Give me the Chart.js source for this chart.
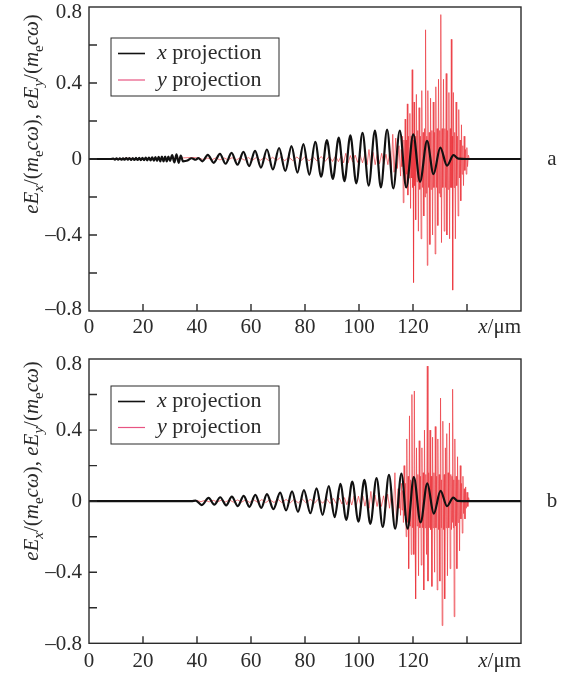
<!DOCTYPE html>
<html>
<head>
<meta charset="utf-8">
<script src="https://cdn.jsdelivr.net/npm/chart.js@4.4.1/dist/chart.umd.min.js"></script>
<style>
  html, body { margin: 0; padding: 0; background: #fff; }
  canvas { display: block; }
</style>
</head>
<body>
<canvas id="panelA" width="565" height="340"></canvas>
<canvas id="panelB" width="565" height="335"></canvas>
<script>
// --- axis ticks ---
const xTicks = [0, 20, 40, 60, 80, 100, 120, 140, 160];
const xTickLabels = ['0', '20', '40', '60', '80', '100', '120', '', ''];
const yTicks = [-0.8, -0.6, -0.4, -0.2, 0, 0.2, 0.4, 0.6, 0.8];
const yTickLabels = ['\u20130.8', '', '\u20130.4', '', '0', '', '0.4', '', '0.8'];

const xProjA = [
  [0, 0], [8, 0],
  [9, 0.002], [9.6, -0.003], [10.2, 0.003], [10.8, -0.004], [11.4, 0.003], [12, -0.004],
  [12.6, 0.004], [13.2, -0.004], [13.8, 0.005], [14.4, -0.004], [15, 0.005], [15.6, -0.005],
  [16.2, 0.005], [16.8, -0.005], [17.4, 0.006], [18, -0.005], [18.6, 0.006], [19.2, -0.006],
  [19.8, 0.006], [20.4, -0.006], [21, 0.007], [21.6, -0.007], [22.2, 0.008], [22.8, -0.008],
  [23.4, 0.009], [24, -0.009], [24.6, 0.01], [25.2, -0.01], [25.8, 0.011], [26.4, -0.012],
  [27, 0.012], [27.6, -0.012], [28.2, 0.013], [28.8, -0.012], [29.4, 0.012], [30, -0.01],
  [30.8, 0.02], [31.6, -0.018], [32.4, 0.024], [33.2, -0.02], [34, 0.018], [34.8, -0.012],
  [36.5, -0.008], [38, 0.004], [39.5, -0.004], [40.5, 0.005], [42, -0.012],
  [44, 0.022], [46.2, -0.02], [48.5, 0.027], [50.6, -0.025], [52.8, 0.032], [55, -0.03],
  [57.2, 0.037], [59.3, -0.037], [61.5, 0.043], [63.7, -0.045], [65.9, 0.05], [68.1, -0.055],
  [70.4, 0.058], [72.7, -0.063], [75, 0.068], [77.2, -0.072], [79.4, 0.078], [81.6, -0.083],
  [83.8, 0.09], [86, -0.093], [88.1, 0.1], [90.3, -0.105], [92.5, 0.112], [94.6, -0.117],
  [96.8, 0.125], [99, -0.128], [101.3, 0.138], [103.6, -0.14], [105.9, 0.15], [108.1, -0.15],
  [110.4, 0.155], [112.7, -0.155], [115.1, 0.15], [117.5, -0.15], [120.1, 0.13], [122.6, -0.12],
  [125.2, 0.095], [127.6, -0.08], [130.1, 0.06], [132.6, -0.035], [135, 0.02], [136.8, 0.002],
  [140, 0], [160, 0]
];

// --- panel a: y projection (red) ---
const yProjA = [
  [0, 0], [10, 0.001], [14, 0.004], [18, 0.002], [24, 0.003], [30, 0.002], [35, 0.006], [38.5, 0.008], [41, 0.004],
  [42.5, -0.004], [44, 0.005], [45.5, -0.004], [47, 0.006], [48.5, -0.005], [50, 0.006], [51.5, -0.005],
  [53, 0.007], [54.5, -0.006], [56, 0.007], [57.5, -0.006], [59, 0.008], [60.5, -0.007], [62, 0.008],
  [63.5, -0.007], [65, 0.009], [66.5, -0.008], [68, 0.009], [69.5, -0.008], [71, 0.01], [72.5, -0.009],
  [74, 0.01], [75.5, -0.009], [77, 0.011], [78.5, -0.01], [80, 0.012], [81.5, -0.01], [83, 0.012],
  [84.5, -0.011], [86, 0.013], [87.5, -0.012], [89, 0.014], [90.2, -0.013], [91.3, 0.015], [92.4, -0.014],
  [93.5, 0.02], [94.3, -0.02], [95.1, 0.03], [95.9, -0.022], [96.8, 0.018], [97.7, -0.016], [98.6, 0.02],
  [99.5, -0.018], [100.4, 0.022], [101.3, -0.02], [102.2, 0.025], [103, -0.03], [103.7, 0.05], [104.4, -0.045],
  [105.2, 0.035], [106, -0.03], [106.8, 0.03], [107.6, -0.025], [108.4, 0.03], [109.2, -0.028], [110, 0.025],
  [110.7, -0.03], [111.4, 0.04], [112, -0.05], [112.5, 0.13], [113, -0.07], [113.6, 0.11], [114.2, -0.05],
  [114.8, 0.07], [115.4, -0.09], [115.65, 0.05], [115.9, -0.04], [116.15, 0.12], [116.4, -0.23],
  [116.65, 0.1], [116.9, -0.06], [117.1, 0.21], [117.3, -0.15], [117.5, 0.1], [117.7, -0.08],
  [117.9, 0.29], [118.1, -0.19], [118.35, 0.12], [118.6, -0.1], [118.85, 0.24], [119.1, -0.26],
  [119.3, 0.12], [119.5, -0.1], [119.7, 0.47], [119.9, -0.15], [120.05, 0.1], [120.2, -0.65],
  [120.4, 0.3], [120.6, -0.14], [120.8, 0.12], [121, -0.32], [121.25, 0.34], [121.5, -0.12],
  [121.75, 0.15], [122, -0.38], [122.25, 0.27], [122.5, -0.16], [122.75, 0.12], [123, -0.42],
  [123.25, 0.36], [123.5, -0.15], [123.75, 0.14], [124, -0.3], [124.25, 0.16], [124.45, -0.2],
  [124.65, 0.68], [124.9, -0.18], [125.1, 0.12], [125.3, -0.56], [125.5, 0.36], [125.75, -0.15],
  [126, 0.14], [126.25, -0.45], [126.5, 0.32], [126.75, -0.16], [127, 0.15], [127.25, -0.4],
  [127.5, 0.3], [127.75, -0.15], [128, 0.14], [128.2, -0.5], [128.45, 0.38], [128.7, -0.15],
  [128.95, 0.16], [129.2, -0.35], [129.45, 0.42], [129.7, -0.18], [129.9, 0.15], [130.1, -0.2],
  [130.3, 0.76], [130.55, -0.44], [130.8, 0.16], [131.05, -0.15], [131.3, 0.42], [131.55, -0.38],
  [131.8, 0.16], [132.05, -0.15], [132.3, 0.45], [132.55, -0.4], [132.8, 0.15], [133.05, -0.16],
  [133.3, 0.35], [133.55, -0.42], [133.8, 0.16], [134, -0.15], [134.2, 0.63], [134.4, -0.15],
  [134.55, 0.12], [134.7, -0.69], [134.95, 0.35], [135.2, -0.15], [135.45, 0.14], [135.7, -0.42],
  [135.95, 0.3], [136.2, -0.14], [136.45, 0.12], [136.7, -0.3], [136.95, 0.26], [137.2, -0.1],
  [137.45, 0.1], [137.7, -0.22], [137.95, 0.18], [138.2, -0.08], [138.45, 0.07], [138.7, -0.14],
  [138.95, 0.12], [139.2, -0.06], [139.45, 0.05], [139.7, -0.08], [139.95, 0.06], [140.2, -0.04],
  [140.5, 0.02], [140.9, 0], [160, 0]
];

// --- panel b: x projection (black) ---
const xProjB = [
  [0, 0], [38, 0], [39.5, 0.003], [41.8, -0.022], [44.3, 0.018], [46.4, -0.02], [48.6, 0.022],
  [50.8, -0.024], [52.9, 0.026], [55.1, -0.028], [57.3, 0.03], [59.4, -0.032], [61.6, 0.035],
  [63.8, -0.038], [65.9, 0.04], [68.3, -0.045], [70.8, 0.048], [73, -0.052], [75.2, 0.055],
  [77.4, -0.06], [79.6, 0.062], [82, -0.068], [84.3, 0.072], [86.5, -0.078], [88.8, 0.085],
  [91, -0.09], [93.1, 0.097], [95.3, -0.105], [97.5, 0.11], [99.8, -0.115], [102, 0.12],
  [104.2, -0.128], [106.5, 0.13], [108.8, -0.145], [111.1, 0.148], [113.4, -0.155], [115.7, 0.155],
  [118, -0.155], [120.3, 0.135], [122.8, -0.12], [125.3, 0.1], [127.7, -0.07], [130.2, 0.058],
  [132.6, -0.028], [134.9, 0.02], [136.5, 0.002], [140, 0], [160, 0]
];

// --- panel b: y projection (red) ---
const yProjB = [
  [0, 0], [38, 0], [40, 0.004], [41.5, -0.003], [43, 0.005], [44.5, -0.004], [46, 0.005], [47.5, -0.005],
  [49, 0.006], [50.5, -0.005], [52, 0.007], [53.5, -0.006], [55, 0.007], [56.5, -0.006], [58, 0.008],
  [59.5, -0.007], [61, 0.008], [62.5, -0.007], [64, 0.009], [65.5, -0.008], [67, 0.009], [68.5, -0.008],
  [70, 0.01], [71.5, -0.009], [73, 0.01], [74.5, -0.01], [76, 0.011], [77.5, -0.01], [79, 0.012],
  [80.5, -0.011], [82, 0.012], [83.5, -0.012], [85, 0.013], [86.5, -0.012], [88, 0.014], [89.3, -0.013],
  [90.5, 0.016], [91.6, -0.015], [92.7, 0.018], [93.7, -0.016], [94.6, 0.02], [95.5, -0.02], [96.4, 0.025],
  [97.3, -0.022], [98.2, 0.03], [99, -0.025], [99.8, 0.028], [100.6, -0.024], [101.4, 0.03], [102.2, -0.028],
  [103, 0.035], [103.7, -0.04], [104.4, 0.055], [105.1, -0.045], [105.9, 0.035], [106.7, -0.03], [107.5, 0.035],
  [108.3, -0.03], [109.1, 0.03], [109.9, -0.035], [110.6, 0.04], [111.3, -0.04], [112, 0.05], [112.7, -0.09],
  [113.3, 0.16], [113.9, -0.14], [114.5, 0.07], [114.8, -0.04], [115.1, 0.05], [115.4, -0.08],
  [115.7, 0.1], [115.95, -0.05], [116.2, 0.06], [116.45, -0.12], [116.7, 0.2], [116.95, -0.08],
  [117.2, 0.1], [117.45, -0.2], [117.7, 0.35], [117.95, -0.12], [118.2, 0.14], [118.4, -0.38],
  [118.7, 0.48], [118.9, -0.14], [119.1, 0.12], [119.35, -0.3], [119.6, 0.6], [119.85, -0.15],
  [120.1, 0.14], [120.3, -0.3], [120.5, 0.62], [120.75, -0.15], [120.9, 0.12], [121.05, -0.55],
  [121.3, 0.3], [121.55, -0.14], [121.8, 0.15], [122.05, -0.42], [122.3, 0.34], [122.55, -0.15],
  [122.8, 0.14], [123.05, -0.36], [123.3, 0.3], [123.55, -0.15], [123.8, 0.16], [124, -0.5],
  [124.25, 0.4], [124.5, -0.15], [124.75, 0.15], [125, -0.3], [125.3, 0.76], [125.55, -0.45],
  [125.8, 0.16], [126.05, -0.15], [126.3, 0.4], [126.55, -0.16], [126.8, 0.14], [127, -0.48],
  [127.25, 0.36], [127.5, -0.15], [127.75, 0.16], [128, -0.4], [128.25, 0.42], [128.5, -0.15],
  [128.75, 0.14], [128.95, -0.5], [129.2, 0.35], [129.45, -0.16], [129.7, 0.15], [129.95, -0.45],
  [130.2, 0.58], [130.45, -0.15], [130.6, 0.12], [130.8, -0.7], [131.05, 0.45], [131.3, -0.16],
  [131.55, 0.15], [131.75, -0.55], [132, 0.3], [132.25, -0.15], [132.5, 0.38], [132.75, -0.42],
  [133, 0.16], [133.25, -0.15], [133.5, 0.44], [133.75, -0.38], [134, 0.15], [134.25, -0.16],
  [134.45, 0.14], [134.6, -0.12], [134.75, 0.63], [134.95, -0.15], [135.1, 0.12], [135.25, -0.65],
  [135.5, 0.35], [135.75, -0.14], [136, 0.14], [136.25, -0.38], [136.5, 0.25], [136.75, -0.12],
  [137, 0.12], [137.25, -0.28], [137.5, 0.2], [137.75, -0.1], [138, 0.1], [138.25, -0.18],
  [138.5, 0.14], [138.75, -0.07], [139, 0.07], [139.25, -0.1], [139.5, 0.08], [139.75, -0.04],
  [140, 0.05], [140.3, -0.03], [140.6, 0.02], [140.9, 0], [160, 0]
];

const SERIF = '"Liberation Serif", "DejaVu Serif", serif';
const INK = '#2b2b2b';
const RED = 'rgba(236, 56, 64, 0.85)';

// y-axis title pieces: [text, style] with i = italic, s = subscript
const titleParts = [
  ['e', 'i'], ['E', 'i'], ['x', 'is'], ['/(', ''], ['m', 'i'], ['e', 's'], ['c', 'i'], ['\u03c9', 'i'], ['), ', ''],
  ['e', 'i'], ['E', 'i'], ['y', 'is'], ['/(', ''], ['m', 'i'], ['e', 's'], ['c', 'i'], ['\u03c9', 'i'], [')', '']
];

function partFont(style) {
  const it = style.includes('i') ? 'italic ' : '';
  const size = style.includes('s') ? 15 : 21;
  return it + size + 'px ' + SERIF;
}

function drawTitle(ctx, cx, cy) {
  ctx.save();
  ctx.translate(cx, cy);
  ctx.rotate(-Math.PI / 2);
  ctx.fillStyle = INK;
  ctx.textAlign = 'left';
  ctx.textBaseline = 'alphabetic';
  let total = 0;
  titleParts.forEach(([t, s]) => { ctx.font = partFont(s); total += ctx.measureText(t).width; });
  let pos = -total / 2;
  titleParts.forEach(([t, s]) => {
    ctx.font = partFont(s);
    ctx.fillText(t, pos, s.includes('s') ? 5 : 0);
    pos += ctx.measureText(t).width;
  });
  ctx.restore();
}

// frame, inward ticks, tick labels, legend, panel letter, axis title
const panelDecor = {
  id: 'panelDecor',
  afterDraw(chart, args, o) {
    const { ctx, chartArea: a, scales: { x, y } } = chart;
    ctx.save();
    ctx.strokeStyle = INK;
    ctx.lineWidth = 1.4;
    ctx.beginPath();
    xTicks.slice(1, -1).forEach(v => {
      const px = x.getPixelForValue(v);
      ctx.moveTo(px, a.bottom);
      ctx.lineTo(px, a.bottom - 7);
    });
    yTicks.slice(1, -1).forEach(v => {
      const py = y.getPixelForValue(v);
      ctx.moveTo(a.left, py);
      ctx.lineTo(a.left + 8, py);
    });
    ctx.stroke();
    ctx.strokeRect(a.left, a.top, a.right - a.left, a.bottom - a.top);

    // tick labels
    ctx.fillStyle = INK;
    ctx.font = '21px ' + SERIF;
    ctx.textAlign = 'center';
    ctx.textBaseline = 'alphabetic';
    xTicks.forEach((v, i) => {
      if (xTickLabels[i]) ctx.fillText(xTickLabels[i], x.getPixelForValue(v), o.xLabelBase);
    });
    ctx.textAlign = 'right';
    ctx.textBaseline = 'middle';
    yTicks.forEach((v, i) => {
      if (!yTickLabels[i]) return;
      let py = y.getPixelForValue(v);
      if (i === yTicks.length - 1) py += 5;
      if (i === 0) py += o.bottomNudge;
      ctx.fillText(yTickLabels[i], a.left - 7, py);
    });

    // legend box
    ctx.lineWidth = 1;
    ctx.strokeStyle = INK;
    ctx.fillStyle = '#fff';
    ctx.fillRect(111, o.legendTop, 168, o.legendH);
    ctx.strokeRect(111, o.legendTop, 168, o.legendH);
    const rows = [o.legendTop + o.row1, o.legendTop + o.row2];
    [['x', '#111', 1.6], ['y', 'rgb(232, 84, 130)', 1.2]].forEach(([v, col, w], i) => {
      ctx.strokeStyle = col;
      ctx.lineWidth = w;
      ctx.beginPath();
      ctx.moveTo(118, rows[i]);
      ctx.lineTo(145, rows[i]);
      ctx.stroke();
      ctx.fillStyle = INK;
      ctx.textBaseline = 'middle';
      ctx.textAlign = 'left';
      ctx.font = 'italic 22px ' + SERIF;
      ctx.fillText(v, 157, rows[i]);
      const w1 = ctx.measureText(v).width;
      ctx.font = '22px ' + SERIF;
      ctx.fillText(' projection', 157 + w1, rows[i]);
    });

    // x axis unit label
    ctx.fillStyle = INK;
    ctx.textBaseline = 'alphabetic';
    ctx.textAlign = 'left';
    ctx.font = '21px ' + SERIF;
    const unitW = ctx.measureText('/\u03bcm').width;
    ctx.font = 'italic 21px ' + SERIF;
    const xW = ctx.measureText('x').width;
    const ux = a.right - unitW - xW;
    ctx.fillText('x', ux, o.xLabelBase);
    ctx.font = '21px ' + SERIF;
    ctx.fillText('/\u03bcm', ux + xW, o.xLabelBase);

    // panel letter
    ctx.textAlign = 'center';
    ctx.textBaseline = 'middle';
    ctx.fillText(o.letter, 552, y.getPixelForValue(0));

    drawTitle(ctx, 38, o.titleY);
    ctx.restore();
  }
};

function toXY(pts) {
  return pts.map(([x, y]) => ({ x, y }));
}

function makePanel(id, blackPts, redPts, deco) {
  return new Chart(document.getElementById(id), {
    type: 'line',
    data: {
      datasets: [
        { label: 'x projection', data: toXY(blackPts), borderColor: '#111', borderWidth: 2.2,
          cubicInterpolationMode: 'monotone', pointRadius: 0 },
        { label: 'y projection', data: toXY(redPts), borderColor: RED, borderWidth: 0.8,
          tension: 0, pointRadius: 0 }
      ]
    },
    options: {
      responsive: false,
      animation: false,
      events: [],
      layout: { padding: { top: deco.padTop, right: 44, left: 0, bottom: 0 } },
      plugins: { legend: { display: false }, tooltip: { enabled: false }, panelDecor: deco },
      scales: {
        x: {
          type: 'linear', min: 0, max: 160,
          grid: { display: false }, border: { display: false },
          ticks: { display: false },
          afterBuildTicks: s => { s.ticks = xTicks.map(v => ({ value: v })); },
          afterFit: s => { s.height = deco.xAxisH; s.paddingLeft = 0; s.paddingRight = 0; }
        },
        y: {
          min: -0.8, max: 0.8,
          grid: { display: false }, border: { display: false },
          ticks: { display: false },
          afterBuildTicks: s => { s.ticks = yTicks.map(v => ({ value: v })); },
          afterFit: s => { s.width = 89; s.paddingTop = 0; s.paddingBottom = 0; }
        }
      }
    },
    plugins: [panelDecor]
  });
}

makePanel('panelA', xProjA, yProjA, {
  padTop: 7, xAxisH: 29, letter: 'a', xLabelBase: 333, bottomNudge: -2,
  legendTop: 38, legendH: 58, row1: 15.5, row2: 42, titleY: 114
});
makePanel('panelB', xProjB, yProjB, {
  padTop: 19, xAxisH: 31.7, letter: 'b', xLabelBase: 327, bottomNudge: 1,
  legendTop: 46, legendH: 58, row1: 15.5, row2: 41.5, titleY: 121
});
</script>
</body>
</html>
